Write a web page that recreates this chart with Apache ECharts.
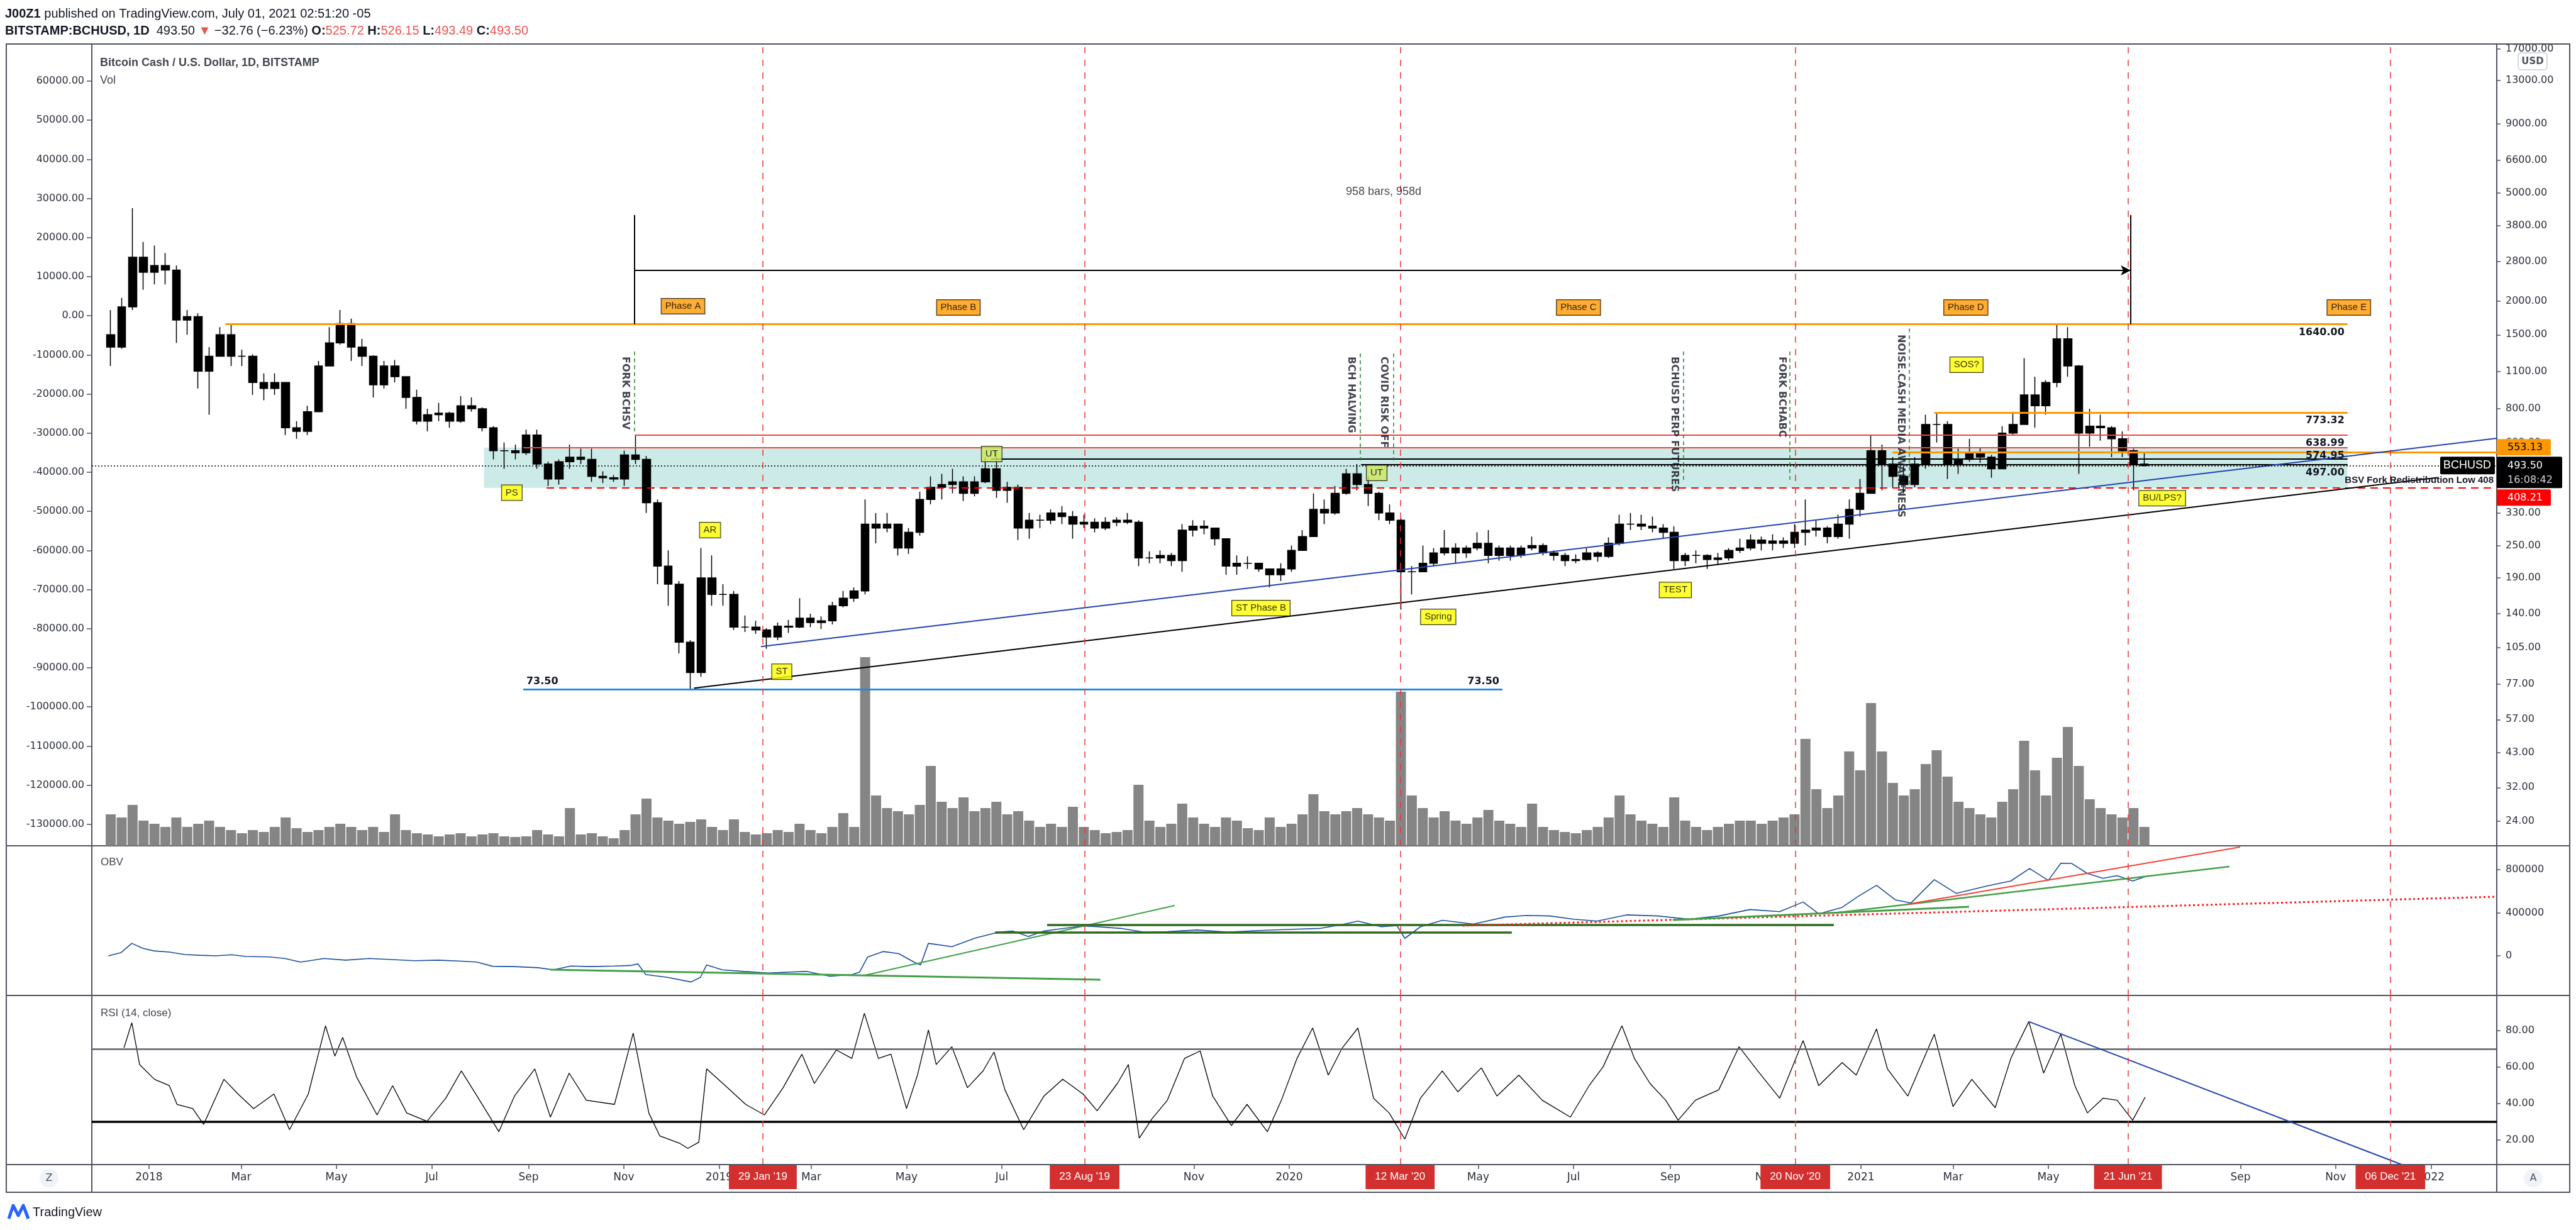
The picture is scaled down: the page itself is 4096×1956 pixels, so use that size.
<!DOCTYPE html>
<html>
<head>
<meta charset="utf-8">
<title>BCHUSD</title>
<script src="https://cdn.jsdelivr.net/npm/echarts@6.0.0/dist/echarts.min.js"></script>
<style>
html,body{margin:0;padding:0;background:#ffffff;}
#chart{width:4096px;height:1956px;}
</style>
</head>
<body>
<div id="chart"></div>
<script>
// ================= DATA =================
// weekly candles [open, close, low, high], first week starts 2017-12-04
const weekStart = '2017-12-04';
const candles = [
[1500,1350,1150,1850],[1350,1900,1330,2050],[1900,2900,1850,4400],[2900,2550,2200,3300],
[2550,2700,2300,3200],[2700,2600,2300,3000],[2600,1700,1400,2700],[1700,1750,1500,1850],
[1750,1100,950,1800],[1100,1250,760,1350],[1250,1500,1250,1600],[1500,1250,1150,1650],
[1250,1250,1150,1320],[1250,1000,900,1270],[1000,950,860,1080],[950,1000,900,1080],
[1000,680,640,1000],[680,660,620,720],[660,780,640,820],[780,1150,780,1200],
[1150,1400,1150,1600],[1400,1650,1380,1850],[1650,1350,1200,1720],[1350,1250,1150,1450],
[1250,980,880,1260],[980,1150,950,1200],[1150,1050,1000,1210],[1050,880,800,1050],
[880,720,700,940],[720,760,660,800],[760,770,720,840],[770,720,680,780],
[720,820,710,890],[820,800,780,880],[800,680,660,810],[680,560,520,690],
[560,560,480,600],[560,550,520,590],[550,640,540,670],[640,500,480,670],
[500,440,415,510],[440,510,420,520],[510,530,480,590],[530,520,500,570],
[520,450,430,570],[450,445,425,470],[445,440,430,455],[440,540,415,560],
[540,520,500,640],[520,360,330,535],[360,210,180,370],[210,180,150,240],
[180,110,100,185],[110,85,73.5,112],[85,190,82,245],[190,165,150,230],
[165,165,150,180],[165,125,122,170],[125,125,120,138],[125,122,118,132],
[122,115,104,124],[115,126,112,130],[126,125,119,133],[125,135,124,160],
[135,130,125,140],[130,132,123,137],[132,150,128,155],[150,160,148,170],
[160,170,155,175],[170,300,165,370],[300,290,255,330],[290,300,280,330],
[300,245,230,300],[245,280,233,290],[280,370,272,395],[370,410,355,450],
[410,420,370,460],[420,430,390,480],[430,390,365,450],[390,430,380,450],
[430,480,425,530],[480,400,375,553],[400,410,360,430],[410,290,262,420],
[290,310,265,330],[310,310,290,325],[310,330,300,340],[330,320,300,350],
[320,300,265,335],[300,305,290,325],[305,290,280,315],[290,305,285,318],
[305,310,295,318],[310,305,300,330],[305,225,210,310],[225,225,215,238],
[225,230,215,240],[230,220,210,235],[220,285,200,300],[285,295,270,310],
[295,290,275,310],[290,265,250,290],[265,210,195,265],[210,215,195,230],
[215,215,205,228],[215,205,200,215],[205,195,175,205],[195,205,185,215],
[205,240,200,250],[240,270,240,285],[270,340,270,390],[340,330,300,370],
[330,390,325,415],[390,460,385,480],[460,420,400,500],[420,390,350,450],
[390,330,310,395],[330,310,300,355],[310,200,145,315],[200,200,165,210],
[200,215,200,250],[215,235,210,245],[235,245,230,285],[245,235,215,255],
[235,245,225,250],[245,255,240,280],[255,230,215,285],[230,245,220,250],
[245,230,220,250],[230,245,225,250],[245,250,240,270],[250,235,230,255],
[235,230,220,240],[230,220,210,235],[220,222,215,232],[222,235,220,245],
[235,228,218,238],[228,255,225,268],[255,300,250,325],[300,300,285,330],
[300,295,285,325],[295,290,280,320],[290,280,265,300],[280,220,205,295],
[220,230,210,235],[230,230,215,240],[230,222,205,232],[222,225,212,235],
[225,240,220,245],[240,245,235,265],[245,262,240,275],[262,255,240,270],
[255,260,240,275],[260,255,245,268],[255,280,245,300],[280,285,250,370],
[285,290,270,310],[290,270,255,295],[270,300,265,325],[300,340,265,370],
[340,390,320,440],[390,560,390,640],[560,500,400,590],[500,450,410,530],
[450,420,390,490],[420,500,410,530],[500,700,480,760],[700,700,600,770],
[700,500,440,720],[500,520,460,570],[520,550,510,620],[550,530,505,575],
[530,480,445,540],[480,650,480,690],[650,700,640,780],[700,900,700,1230],
[900,820,680,1050],[820,1000,760,1020],[1000,1450,960,1640],[1450,1150,1050,1600],
[1150,650,460,1160],[650,690,580,800],[690,680,610,760],[680,620,530,690],
[620,560,530,660],[560,500,400,570],[500,493.5,490,555]
];
// weekly volume (thousand BCH, same week order)
const volume = [
50,45,65,40, 35,30,45,30,35,40,30, 25,20,25,22,30,45,28,22,25,
30,35,30,25,30,22,50,25,20,18,15,18,20, 15,18,20,15,14,15,25,18,15,
60,18,20,15,12,25, 50,75,45,40,35,38,42,30,25,42,22,18,
20,25,22,35,25,20,30,52,30,
300,80,60,55,50,65,127,70,60,77,55,60,70,50,
55,40,30,35,30,62,30,25,20,22,25,
97,40,30,35,67,45,35,30,45,40,28,25,45,30,35,
50,82,55,50,55,60,50,45,40,245,80,60,
45,55,40,35,45,57,40,35,30,67,30,25,22,20,
25,30,45,80,50,40,35,30,77,40,30,25,30,35,40,
40,35,40,45,50,
170,90,60,80,150,120,227,150,100,80,90,130,152,110,70,60,50,45,70,90,167,120,80,140,189,127,74,60,50,45,60,30
];
// OBV [day since 2018-01-01, value]
const obv = [
[-26,0],[-18,29000],[-11,116000],[-4,70000],[3,46000],[13,35000],[23,12000],[33,5000],[43,0],[53,10000],
[62,-6000],[77,-10000],[87,-25000],[97,-58000],[112,-25000],[126,-40000],[141,-25000],[156,-35000],[170,-45000],[185,-40000],
[200,-50000],[210,-58000],[220,-97000],[234,-100000],[249,-110000],[259,-130000],[270,-95000],[283,-100000],[298,-95000],[308,-90000],
[313,-75000],[318,-174000],[332,-200000],[347,-243000],[353,-200000],[357,-85000],[367,-130000],[381,-145000],[396,-160000],[411,-150000],
[421,-145000],[436,-190000],[450,-175000],[455,-150000],[460,-12000],[470,40000],[480,20000],[490,-60000],[494,-85000],[499,116000],
[514,85000],[529,165000],[544,220000],[553,230000],[563,180000],[573,230000],[583,250000],[598,277000],[607,270000],[622,255000],
[637,220000],[652,225000],[671,240000],[691,220000],[710,235000],[730,245000],[750,255000],[764,290000],[774,323000],[789,270000],
[799,280000],[804,162000],[814,270000],[828,330000],[848,295000],[868,360000],[882,375000],[897,370000],[912,340000],[927,323000],
[946,380000],[966,370000],[986,340000],[1005,370000],[1025,430000],[1044,410000],[1059,500000],[1069,390000],[1084,450000],[1094,550000],
[1106,655000],[1118,520000],[1128,490000],[1143,707000],[1157,580000],[1177,650000],[1192,695000],[1204,811000],[1216,700000],[1224,860000],
[1231,858000],[1241,765000],[1251,720000],[1260,745000],[1270,695000],[1280,745000]
];
// RSI(14) [day since 2018-01-01, value]
const rsi = [
[-16,70.6],[-11,84.4],[-6,61.4],[3.5,53.3],[13,49.8],[18,39.5],[28,37.2],[35,28.5],[48,53.3],[57,45.2],
[67,37.2],[80,45.2],[90,25.6],[102,45.2],[113,82.7],[119,66],[124,76.3],[133,54.4],[146,33.7],[156,49.8],
[165,34.8],[178,30.2],[190,42.9],[200,57.9],[210,44.1],[224,24.5],[234,44.1],[247,59],[257,32.5],[269,56.7],
[280,41.8],[298,39.5],[310,78.7],[320,34.8],[327,22.2],[340,18],[345,15.3],[352,18.7],[357,59],[369,49.8],
[382,39.5],[394,33.7],[406,48.7],[418,67.1],[426,51],[440,69.4],[450,64.8],[458,89.6],[467,64.8],[475,67.1],
[485,37.2],[492,55.6],[499,80.4],[504,61.4],[514,71.2],[524,48.7],[534,57.9],[541,68.3],[548,47.5],[560,25.6],
[573,44.1],[585,53.3],[598,45.2],[607,36],[620,51],[627,61.4],[634,21],[642,31.4],[652,41.8],[663,64.8],
[673,68.9],[681,44.1],[693,27.9],[703,39.5],[716,24.5],[725,41.8],[735,64.8],[745,81.5],[755,55.6],[764,70.6],
[774,81.5],[784,42.9],[794,34.8],[804,20.4],[814,42.9],[828,57.9],[838,46.4],[853,59.6],[863,44.1],[877,55.6],
[892,41.8],[910,32.5],[922,49.8],[931,60.2],[943,82.7],[951,64.8],[961,51],[971,41.8],[979,30.8],[990,41.8],
[1005,47.5],[1018,71.2],[1030,57.9],[1044,42.9],[1059,74.6],[1069,49.8],[1084,62.5],[1093,55.6],[1106,81],[1113,59],
[1126,44.1],[1143,78.1],[1155,38.3],[1167,53.3],[1182,37.7],[1192,64.8],[1203.5,85],[1213,56.7],[1224,78.1],[1233,49.8],
[1241,34.8],[1251,42.9],[1260,41.8],[1270,30.8],[1278,43.5]
];
// axis ticks
const priceTicks = [17000,13000,9000,6600,5000,3800,2800,2000,1500,1100,800,600,450,330,250,190,140,105,77,57,43,32,24];
const leftTicks = [60000,50000,40000,30000,20000,10000,0,-10000,-20000,-30000,-40000,-50000,-60000,-70000,-80000,-90000,-100000,-110000,-120000,-130000];
const obvTicks = [0,400000,800000];
const rsiTicks = [20,40,60,80];
const monthTicks = [
['2018-01-01','2018'],['2018-03-01','Mar'],['2018-05-01','May'],['2018-07-01','Jul'],['2018-09-01','Sep'],['2018-11-01','Nov'],
['2019-01-01','2019'],['2019-03-01','Mar'],['2019-05-01','May'],['2019-07-01','Jul'],['2019-09-01','Sep'],['2019-11-01','Nov'],
['2020-01-01','2020'],['2020-03-01','Mar'],['2020-05-01','May'],['2020-07-01','Jul'],['2020-09-01','Sep'],['2020-11-01','Nov'],
['2021-01-01','2021'],['2021-03-01','Mar'],['2021-05-01','May'],['2021-07-01','Jul'],['2021-09-01','Sep'],['2021-11-01','Nov'],
['2022-01-01','2022']
];
const dateTags = [['2019-01-29',"29 Jan '19"],['2019-08-23',"23 Aug '19"],['2020-03-12',"12 Mar '20"],['2020-11-20',"20 Nov '20"],['2021-06-21',"21 Jun '21"],['2021-12-06',"06 Dec '21"]];
// drawings (days since 2018-01-01, prices)
const levels = [
 // [fromDay, toDay, price, color, width, style, label, labelPos]
 [49,1407.6,1640,'#ff9800',3,'solid','1640.00','insideEndBottom'],
 [1143,1407.6,773.32,'#ff9800',3,'solid','773.32','insideEndBottom'],
 [311,1407.6,638.99,'#f44336',2,'solid','638.99','insideEndBottom'],
 [239.6,1407.6,574.95,'#f44336',2,'solid','574.95','insideEndBottom'],
 [1116.3,1503.1,553.13,'#ff9800',3,'solid','',''],
 [539.2,1407.6,521,'#000000',2,'solid','',''],
 [776,1407.6,497,'#000000',2,'solid','497.00','insideEndBottom'],
 [254.5,1503.1,408.21,'#ff0000',2,'dashed','BSV Fork Redistribution Low 408','insideEndTop'],
 [239.6,866.5,73.5,'#1e88e5',2.5,'solid','73.50','insideStartTop'],
 [239.6,866.5,73.5,'#1e88e5',2.5,'solid','73.50','insideEndTop']
];
const box = [214.5,1407.6,574.95,408.21];
const trendLines = [
 [391.8,106,1503.1,622,'#2444b0',2],
 [349,74.5,1465,445.6,'#000000',2]
];
const events = [
 // [text, lineDay, lineTop, lineBottom, textDay, textTop]
 ['FORK BCHSV',310.8,1300,650,304.8,1246],
 ['BCH HALVING',775.5,1280,515,769.4,1246],
 ['COVID RISK OFF',796.8,1280,515,790.4,1246],
 ['BCHUSD PERP FUTURES',982.5,1300,427,976.4,1246],
 ['FORK BCHABC',1050.5,1300,427,1045.3,1246],
 ['NOISE.CASH MEDIA AWARENESS',1127,1582,416,1121.4,1503]
];
const phaseLabels = [['Phase A',341.9,1911],['Phase B',518.2,1891],['Phase C',915.2,1891],['Phase D',1163.2,1891],['Phase E',1408.4,1891]];
const wyckoffLabels = [['PS',232.3,392],['AR',359.2,285],['ST',405.1,85.6],['UT',539.5,544],['UT',786,464],['ST Phase B',711.9,147],['Spring',825.4,136.4],['TEST',977.2,171.5],['SOS?',1163.6,1162],['BU/LPS?',1288.9,374]];
const rangeTool = {start:310.8,end:1268.8,top:4146,mid:2591,bottom:1644,text:'958 bars, 958d',textDay:790.4,textPrice:5052};
const obvLines = [
 [256.9,-128000,609.2,-222000,'#43a047',3,'solid'],
 [458.2,-181000,656.7,467000,'#43a047',2,'solid'],
 [575,286000,1078.7,286000,'#2e6b1f',3.5,'solid'],
 [541.6,216000,872.5,216000,'#2e6b1f',3.5,'solid'],
 [841,280000,1503.1,549000,'#ff1a1a',3,'dotted'],
 [975.6,333000,1165.3,455000,'#43a047',3,'solid'],
 [1078.7,397000,1332,829000,'#43a047',2.5,'solid'],
 [1125.8,479000,1338.8,1010000,'#f44336',2,'solid']
];
const rsiLevels = [[70,'#5d606b',2.5],[30,'#000000',3.5]];
const rsiTrend = [1203.5,85,1442.3,6.4];
const lastPrice = 493.5;
const priceTags = {upper:[553.13,'553.13'], last:[493.5,'493.50','16:08:42'], lower:[408.21,'408.21']};

// ================= CHART =================
// x axis unit: days since 2018-01-01 (UTC)
const T0 = Date.UTC(2018,0,1), DAY = 86400000;
const ts = d => d;
const tsOf = s => Math.round((Date.parse(s + 'T00:00:00Z') - T0) / DAY);
const firstWeekDay = tsOf(weekStart);
const xMin = -36.6, xMax = 1503.1;
const P_MIN = 19.5, P_MAX = 17743;
const LEFT_MIN = -135500, LEFT_MAX = 69486;
const OBV_MIN = -367900, OBV_MAX = 1021900;
const RSI_MIN = 6.4, RSI_MAX = 99.4;
const ink = '#131722', axisGray = '#50535e', labelInk = '#2a2e39';

const candleData = candles.map((c,i) => [ts(firstWeekDay + 7*i + 3.5), c[0], c[1], c[2], c[3]]);
const volData = volume.map((v,i) => [ts(firstWeekDay + 7*i + 3.5), v]);
const obvData = obv.map(p => [ts(p[0]), p[1]]);
const rsiData = rsi.map(p => [ts(p[0]), p[1]]);

const monthTs = monthTicks.map(m => tsOf(m[0]));
const monthMap = {}; monthTicks.forEach(m => { monthMap[tsOf(m[0])] = m[1]; });
const tagTs = dateTags.map(t => tsOf(t[0]));
const tagMap = {}; dateTags.forEach(t => { tagMap[tsOf(t[0])] = t[1]; });
const lookup = (map, v) => map[Math.round(v)] || '';
const redDash = {color:'#e53935', width:1.5, type:[10,10]};

function seg(d1, v1, d2, v2, lineStyle, label, endSymbol) {
  return [
    {coord:[ts(d1), v1], lineStyle: lineStyle, label: label || {show:false}, symbol:'none'},
    {coord:[ts(d2), v2], symbol: endSymbol || 'none', symbolSize: endSymbol ? [12,16] : 0}
  ];
}

const mainLines = [];
levels.forEach(l => {
  const numeric = /^[0-9.]+$/.test(l[6]);
  const lbl = l[6] ? {show:true, position:l[7], formatter:l[6], color:ink, fontWeight:'bold',
    fontSize: numeric ? 16 : 15, fontFamily: numeric ? 'DejaVu Sans' : 'Liberation Sans', distance:5} : null;
  mainLines.push(seg(l[0], l[2], l[1], l[2], {color:l[3], width:l[4], type: l[5]==='dashed' ? [12,8] : 'solid'}, lbl));
});
trendLines.forEach(t => mainLines.push(seg(t[0], t[1], t[2], t[3], {color:t[4], width:t[5], type:'solid'})));
events.forEach(e => mainLines.push(seg(e[1], e[2], e[1], e[3], {color:'#2e7d32', width:1.5, type:[6,5]})));
const blk = {color:'#000', width:2, type:'solid'};
mainLines.push(seg(rangeTool.start, rangeTool.top, rangeTool.start, rangeTool.bottom, blk));
mainLines.push(seg(rangeTool.end, rangeTool.top, rangeTool.end, rangeTool.bottom, blk));
mainLines.push(seg(rangeTool.start, rangeTool.mid, rangeTool.end, rangeTool.mid, blk, null, 'arrow'));
mainLines.push({yAxis:lastPrice, lineStyle:{color:'#000', type:[2,3], width:1.5}, label:{show:false}});
tagTs.forEach(t => mainLines.push({xAxis:t, lineStyle:redDash, label:{show:false}}));

const obvMarks = obvLines.map(o => seg(o[0], o[1], o[2], o[3], {color:o[4], width:o[5], type: o[6]==='dotted' ? [3,4] : 'solid'}));
tagTs.forEach(t => obvMarks.push({xAxis:t, lineStyle:redDash, label:{show:false}}));

const rsiMarks = rsiLevels.map(r => ({yAxis:r[0], lineStyle:{color:r[1], width:r[2], type:'solid'}, label:{show:false}}));
rsiMarks.push(seg(rsiTrend[0], rsiTrend[1], rsiTrend[2], rsiTrend[3], {color:'#2444b0', width:2, type:'solid'}));
tagTs.forEach(t => rsiMarks.push({xAxis:t, lineStyle:redDash, label:{show:false}}));

function boxLabel(bg) {
  return {show:true, position:'inside', backgroundColor:bg, borderColor:'#000', borderWidth:1,
    padding:[5,6,4,6], color:'#000', fontSize:15, fontFamily:'Liberation Sans'};
}
const labelItems = [];
phaseLabels.forEach(p => labelItems.push({value:[ts(p[1]), p[2]], label:Object.assign(boxLabel('#ff9800'), {formatter:p[0]})}));
wyckoffLabels.forEach(w => labelItems.push({value:[ts(w[1]), w[2]], label:Object.assign(boxLabel(w[0]==='UT' ? '#cde85f' : '#ffff00'), {formatter:w[0]})}));
events.forEach(e => labelItems.push({value:[ts(e[4]), e[5]], label:{show:true, position:'inside', rotate:-90, align:'left', verticalAlign:'middle',
  formatter:e[0], color:ink, fontSize:16, fontWeight:'bold', fontFamily:'DejaVu Sans'}}));
labelItems.push({value:[ts(rangeTool.textDay), rangeTool.textPrice], label:{show:true, position:'inside', formatter:rangeTool.text,
  color:ink, fontSize:18, fontFamily:'Liberation Sans'}});

const xBase = {type:'value', min:xMin, max:xMax, axisLine:{show:false, onZero:false}, axisTick:{show:false},
  axisLabel:{show:false}, splitLine:{show:false}, axisPointer:{show:false}};
const yNo = {axisLine:{show:false, onZero:false}, splitLine:{show:false}};
const tickStyle = {color:axisGray, width:1.5};
const lblBase = {color:labelInk, fontSize:16, fontFamily:'DejaVu Sans'};
const gridBase = {left:146, right:126, show:true, borderColor:axisGray, borderWidth:2, backgroundColor:'transparent', containLabel:false, outerBoundsMode:'none'};

const option = {
  animation:false,
  backgroundColor:'#ffffff',
  textStyle:{fontFamily:'DejaVu Sans'},
  grid:[
    Object.assign({top:70, height:1275}, gridBase),
    Object.assign({top:1345, height:238}, gridBase),
    Object.assign({top:1583, height:269}, gridBase)
  ],
  xAxis:[
    Object.assign({}, xBase, {gridIndex:0}),
    Object.assign({}, xBase, {gridIndex:1}),
    Object.assign({}, xBase, {gridIndex:2, position:'bottom',
      axisTick:{show:true, length:7, lineStyle:tickStyle, customValues:monthTs},
      axisLabel:Object.assign({}, lblBase, {show:true, fontSize:17, margin:12, customValues:monthTs, hideOverlap:false,
        showMinLabel:true, showMaxLabel:true, formatter: v => lookup(monthMap, v)})}),
    Object.assign({}, xBase, {gridIndex:2, position:'bottom', z:5,
      axisLabel:{show:true, customValues:tagTs, hideOverlap:false, showMinLabel:true, showMaxLabel:true, formatter: v => lookup(tagMap, v),
        color:'#ffffff', backgroundColor:'#d32f2f', padding:[11,15,11,15], fontSize:17, fontFamily:'Liberation Sans', margin:0}})
  ],
  yAxis:[
    Object.assign({gridIndex:0, type:'log', logBase:10, position:'right', min:P_MIN, max:P_MAX}, yNo, {
      axisTick:{show:true, length:6, lineStyle:tickStyle, customValues:priceTicks},
      axisLabel:Object.assign({}, lblBase, {show:true, margin:14, customValues:priceTicks, showMinLabel:true, showMaxLabel:true, formatter: v => Number(v).toFixed(2)})}),
    Object.assign({gridIndex:0, type:'value', position:'left', min:LEFT_MIN, max:LEFT_MAX}, yNo, {
      axisTick:{show:true, length:8, lineStyle:tickStyle, customValues:leftTicks},
      axisLabel:Object.assign({}, lblBase, {show:true, margin:12, customValues:leftTicks, formatter: v => Number(v).toFixed(2)})}),
    {gridIndex:0, type:'value', min:0, max:1275, show:false, splitLine:{show:false}},
    Object.assign({gridIndex:1, type:'value', position:'right', min:OBV_MIN, max:OBV_MAX}, yNo, {
      axisTick:{show:true, length:6, lineStyle:tickStyle, customValues:obvTicks},
      axisLabel:Object.assign({}, lblBase, {show:true, margin:14, customValues:obvTicks, formatter: v => String(Math.round(v))})}),
    Object.assign({gridIndex:2, type:'value', position:'right', min:RSI_MIN, max:RSI_MAX}, yNo, {
      axisTick:{show:true, length:6, lineStyle:tickStyle, customValues:rsiTicks},
      axisLabel:Object.assign({}, lblBase, {show:true, margin:14, customValues:rsiTicks, formatter: v => Number(v).toFixed(2)})})
  ],
  series:[
    {name:'box', type:'line', xAxisIndex:0, yAxisIndex:0, data:[[xMin,100]], showSymbol:false, lineStyle:{opacity:0}, z:1, silent:true,
      markArea:{silent:true, itemStyle:{color:'rgba(0,150,136,0.2)'}, data:[[{coord:[ts(box[0]), box[2]]},{coord:[ts(box[1]), box[3]]}]]}},
    {name:'Vol', type:'bar', xAxisIndex:0, yAxisIndex:2, data:volData, barWidth:16, itemStyle:{color:'#858585'}, z:2, silent:true},
    {name:'BCHUSD', type:'candlestick', xAxisIndex:0, yAxisIndex:0, data:candleData, encode:{x:0, y:[1,2,3,4]}, barWidth:13,
      itemStyle:{color:'#000', color0:'#000', borderColor:'#000', borderColor0:'#000', borderWidth:1.5}, z:3, silent:true},
    {name:'drawings', type:'line', xAxisIndex:0, yAxisIndex:0, data:[[xMin,100]], showSymbol:false, lineStyle:{opacity:0}, z:4, silent:true,
      markLine:{silent:true, animation:false, symbol:['none','none'], data:mainLines}},
    {name:'labels', type:'scatter', xAxisIndex:0, yAxisIndex:0, data:labelItems, symbolSize:1, itemStyle:{color:'rgba(0,0,0,0)'}, z:6, silent:true},
    {name:'OBV', type:'line', xAxisIndex:1, yAxisIndex:3, data:obvData, showSymbol:false, lineStyle:{color:'#1c4f9c', width:1.6}, z:3, silent:true,
      markLine:{silent:true, animation:false, symbol:['none','none'], data:obvMarks}},
    {name:'RSI', type:'line', xAxisIndex:2, yAxisIndex:4, data:rsiData, showSymbol:false, lineStyle:{color:'#000', width:1.3}, z:3, silent:true,
      markLine:{silent:true, animation:false, symbol:['none','none'], data:rsiMarks}}
  ]
};

const chart = echarts.init(document.getElementById('chart'), null, {renderer:'canvas'});
chart.setOption(option);

// ---------- overlay graphics (tag positions from the library's scale) ----------
const yPix = v => chart.convertToPixel({yAxisIndex:0}, v);
const yLast = yPix(priceTags.last[0]);
const lastTop = yLast - 14, lastH = 50;
const upY = Math.min(yPix(priceTags.upper[0]), lastTop - 15);
const loY = Math.max(yPix(priceTags.lower[0]), lastTop + lastH + 15);
const G = [];
const ln = (x1,y1,x2,y2) => ({type:'line', silent:true, shape:{x1,y1,x2,y2}, style:{stroke:axisGray, lineWidth:2}, z:50});
G.push({type:'rect', silent:true, shape:{x:10,y:70,width:4076,height:1826}, style:{fill:'none', stroke:axisGray, lineWidth:2}, z:50});
G.push(ln(146,1852,146,1896), ln(3970,1852,3970,1896), ln(10,1852,4086,1852), ln(10,1345,146,1345), ln(3970,1345,4086,1345), ln(10,1583,146,1583), ln(3970,1583,4086,1583));
// header
G.push({type:'text', silent:true, x:8, y:22, style:{text:'{b|J00Z1} published on TradingView.com, July 01, 2021 02:51:20 -05',
  fontSize:20, fontFamily:'Liberation Sans', fill:ink, verticalAlign:'middle',
  rich:{b:{fontWeight:'bold', fontSize:20, fontFamily:'Liberation Sans', fill:ink}}}});
G.push({type:'text', silent:true, x:8, y:49, style:{text:'{b|BITSTAMP:BCHUSD, 1D}  493.50 {r|\u25BC} \u221232.76 (\u22126.23%) {b|O:}{r|525.72} {b|H:}{r|526.15} {b|L:}{r|493.49} {b|C:}{r|493.50}',
  fontSize:20, fontFamily:'Liberation Sans', fill:ink, verticalAlign:'middle',
  rich:{b:{fontWeight:'bold', fontSize:20, fontFamily:'Liberation Sans', fill:ink}, r:{fontSize:20, fontFamily:'Liberation Sans', fill:'#ef5350'}}}});
// pane titles
G.push({type:'text', silent:true, x:159, y:100, style:{text:'Bitcoin Cash / U.S. Dollar, 1D, BITSTAMP', fontSize:18, fontWeight:'bold', fontFamily:'Liberation Sans', fill:'#434651', verticalAlign:'middle'}});
G.push({type:'text', silent:true, x:159, y:128, style:{text:'Vol', fontSize:18, fontFamily:'Liberation Sans', fill:'#434651', verticalAlign:'middle'}});
G.push({type:'text', silent:true, x:160, y:1371, style:{text:'OBV', fontSize:17, fontFamily:'Liberation Sans', fill:'#434651', verticalAlign:'middle'}});
G.push({type:'text', silent:true, x:160, y:1611, style:{text:'RSI (14, close)', fontSize:17, fontFamily:'Liberation Sans', fill:'#434651', verticalAlign:'middle'}});
// USD badge
G.push({type:'rect', silent:true, shape:{x:4004,y:84,width:46,height:27,r:5}, style:{fill:'#ffffff', stroke:'#c9ccd6', lineWidth:1.5}, z:60});
G.push({type:'text', silent:true, x:4027, y:98, style:{text:'USD', fontSize:15, fontWeight:'bold', fontFamily:'DejaVu Sans', fill:axisGray, align:'center', verticalAlign:'middle'}, z:61});
// price tags
G.push({type:'rect', silent:true, shape:{x:3970,y:upY-13,width:86,height:26,r:2}, style:{fill:'#ff9800'}, z:60});
G.push({type:'text', silent:true, x:3987, y:upY, style:{text:priceTags.upper[1], fontSize:16, fontFamily:'DejaVu Sans', fill:'#000', verticalAlign:'middle'}, z:61});
G.push({type:'rect', silent:true, shape:{x:3970,y:lastTop,width:104,height:lastH,r:2}, style:{fill:'#000000'}, z:60});
G.push({type:'text', silent:true, x:3987, y:yLast, style:{text:priceTags.last[1], fontSize:16, fontFamily:'DejaVu Sans', fill:'#ffffff', verticalAlign:'middle'}, z:61});
G.push({type:'text', silent:true, x:3987, y:yLast+23, style:{text:priceTags.last[2], fontSize:16, fontFamily:'DejaVu Sans', fill:'#d1d4dc', verticalAlign:'middle'}, z:61});
G.push({type:'rect', silent:true, shape:{x:3970,y:loY-13,width:86,height:26,r:2}, style:{fill:'#ff0000'}, z:60});
G.push({type:'text', silent:true, x:3987, y:loY, style:{text:priceTags.lower[1], fontSize:16, fontFamily:'DejaVu Sans', fill:'#ffffff', verticalAlign:'middle'}, z:61});
// symbol label inside the pane
G.push({type:'rect', silent:true, shape:{x:3880,y:yLast-14,width:87,height:28,r:2}, style:{fill:'#000000'}, z:60});
G.push({type:'text', silent:true, x:3923, y:yLast, style:{text:'BCHUSD', fontSize:18, fontFamily:'Liberation Sans', fill:'#ffffff', align:'center', verticalAlign:'middle'}, z:61});
// scale buttons
G.push({type:'circle', silent:true, shape:{cx:78,cy:1874,r:15}, style:{fill:'#f0f3fa'}, z:60});
G.push({type:'text', silent:true, x:78, y:1874, style:{text:'Z', fontSize:16, fontFamily:'DejaVu Sans', fill:axisGray, align:'center', verticalAlign:'middle'}, z:61});
G.push({type:'circle', silent:true, shape:{cx:4028,cy:1874,r:15}, style:{fill:'#f0f3fa'}, z:60});
G.push({type:'text', silent:true, x:4028, y:1874, style:{text:'A', fontSize:16, fontFamily:'DejaVu Sans', fill:axisGray, align:'center', verticalAlign:'middle'}, z:61});
// TradingView logo
G.push({type:'polyline', silent:true, shape:{points:[[14,1938],[21,1917],[29,1933],[37,1917],[45,1938]]}, style:{stroke:'#2962ff', lineWidth:5, fill:'none', lineJoin:'round'}, z:60});
G.push({type:'text', silent:true, x:52, y:1928, style:{text:'TradingView', fontSize:20, fontFamily:'Liberation Sans', fill:ink, verticalAlign:'middle'}, z:60});

chart.setOption({graphic: G});
</script>
</body>
</html>
